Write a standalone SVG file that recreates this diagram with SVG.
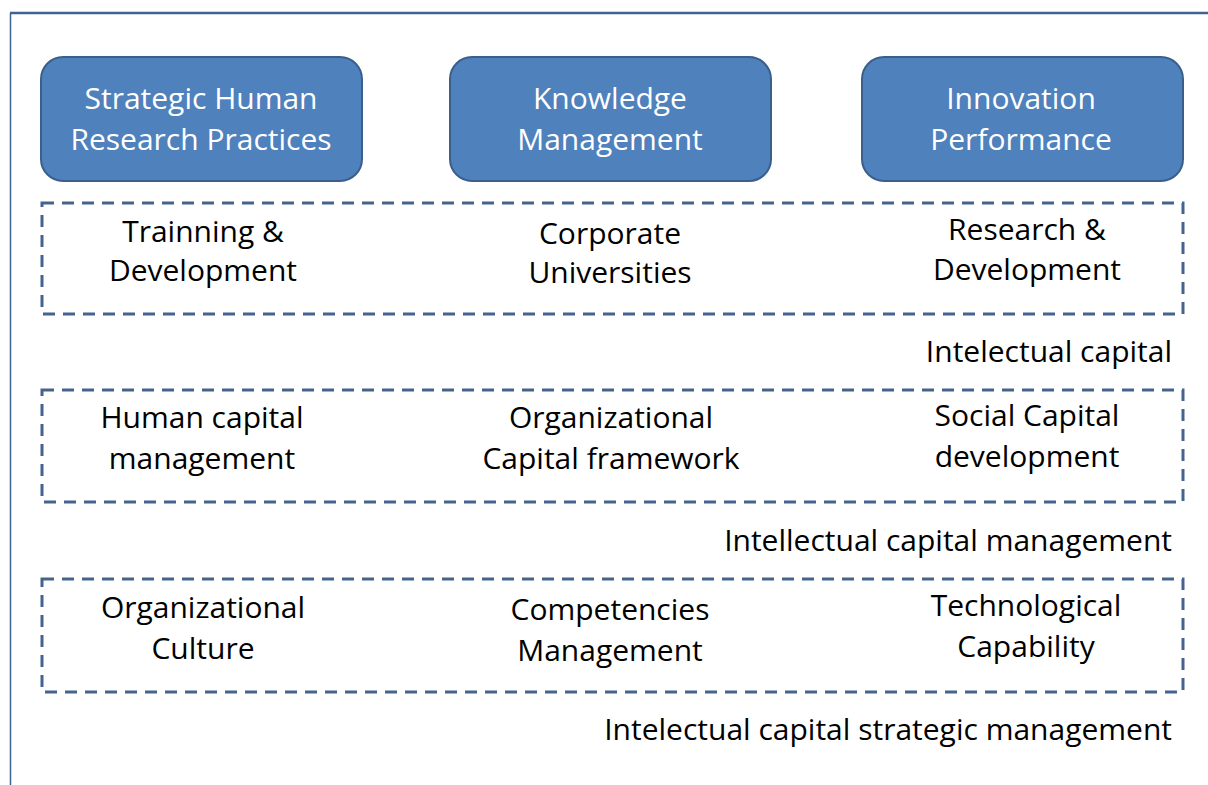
<svg xmlns="http://www.w3.org/2000/svg" width="1208" height="785" viewBox="0 0 1208 785">
<style>
.frame{fill:none;stroke:#3f6291}
.box{fill:#4f81bd;stroke:#3b5f8c;stroke-width:2}
.dash{fill:none;stroke:#44648f;stroke-width:3;stroke-dasharray:12 8}
.bt{font-family:"Open Sans","Liberation Sans",sans-serif;font-size:30px;fill:#ffffff;text-anchor:middle}
.t{font-family:"Open Sans","Liberation Sans",sans-serif;font-size:30px;fill:#000000;text-anchor:middle}
.r{font-family:"Open Sans","Liberation Sans",sans-serif;font-size:30px;fill:#000000;text-anchor:end}
</style>
<rect width="1208" height="785" fill="#ffffff"/>
<g id="frame">
<line class="frame" x1="10" y1="13" x2="1208" y2="13" stroke-width="2.5"/>
<line class="frame" x1="10.5" y1="13" x2="10.5" y2="785" stroke-width="1.5"/>
</g>
<g id="node-shrp">
<rect class="box" x="41" y="57" width="321" height="124" rx="22"/>
<text class="bt" x="201" y="109">Strategic Human</text>
<text class="bt" x="201" y="150">Research Practices</text>
</g>
<g id="node-km">
<rect class="box" x="450" y="57" width="321" height="124" rx="22"/>
<text class="bt" x="610" y="109">Knowledge</text>
<text class="bt" x="610" y="150">Management</text>
</g>
<g id="node-ip">
<rect class="box" x="862" y="57" width="321" height="124" rx="22"/>
<text class="bt" x="1021" y="109">Innovation</text>
<text class="bt" x="1021" y="150">Performance</text>
</g>
<g id="group-intellectual-capital">
<rect class="dash" x="42" y="203" width="1141" height="111"/>
<text class="t" x="203" y="242">Trainning &amp;</text>
<text class="t" x="203" y="281">Development</text>
<text class="t" x="610" y="244">Corporate</text>
<text class="t" x="610" y="283">Universities</text>
<text class="t" x="1027" y="240">Research &amp;</text>
<text class="t" x="1027" y="280">Development</text>
<text class="r" x="1172" y="362">Intelectual capital</text>
</g>
<g id="group-ic-management">
<rect class="dash" x="42" y="390" width="1141" height="112"/>
<text class="t" x="202" y="428">Human capital</text>
<text class="t" x="202" y="469">management</text>
<text class="t" x="611" y="428">Organizational</text>
<text class="t" x="611" y="469">Capital framework</text>
<text class="t" x="1027" y="426">Social Capital</text>
<text class="t" x="1027" y="467">development</text>
<text class="r" x="1172" y="551">Intellectual capital management</text>
</g>
<g id="group-ic-strategic">
<rect class="dash" x="42" y="579" width="1141" height="113"/>
<text class="t" x="203" y="618">Organizational</text>
<text class="t" x="203" y="659">Culture</text>
<text class="t" x="610" y="620">Competencies</text>
<text class="t" x="610" y="661">Management</text>
<text class="t" x="1026" y="616">Technological</text>
<text class="t" x="1026" y="657">Capability</text>
<text class="r" x="1172" y="740">Intelectual capital strategic management</text>
</g>
<g id="connectors"></g>
</svg>
